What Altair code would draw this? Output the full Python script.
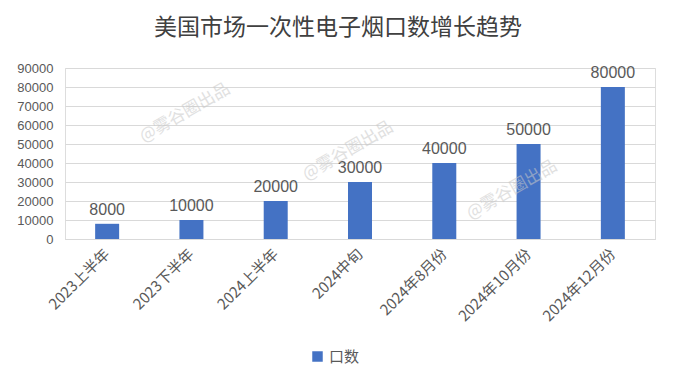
import altair as alt
import pandas as pd

categories = ["2023上半年", "2023下半年", "2024上半年", "2024中旬", "2024年8月份", "2024年10月份", "2024年12月份"]
values = [8000, 10000, 20000, 30000, 40000, 50000, 80000]
y_ticks = [0, 10000, 20000, 30000, 40000, 50000, 60000, 70000, 80000, 90000]
series_name = "口数"
title_text = "美国市场一次性电子烟口数增长趋势"
watermark = "@雾谷圈出品"

df = pd.DataFrame({"cat": categories, "val": values, "series": [series_name] * len(values)})

FONT = "Liberation Sans, Noto Sans CJK SC, sans-serif"
CJK = "Noto Sans CJK SC, sans-serif"

x = alt.X("cat:N", sort=categories, title=None,
          scale=alt.Scale(paddingInner=0.0, paddingOuter=0.0),
          axis=alt.Axis(labelAngle=-45, labelFontSize=15, labelColor="#595959", labelFont=CJK,
                        ticks=False, domainColor="#d9d9d9", labelPadding=12, labelAlign="right",
                        labelBaseline="middle", labelOverlap=False))
y = alt.Y("val:Q", title=None,
          scale=alt.Scale(domain=[0, 90000], nice=False),
          axis=alt.Axis(values=y_ticks, labelFontSize=13, labelColor="#595959", labelFont=FONT,
                        ticks=False, domain=False, gridColor="#d9d9d9", labelPadding=12, format="d",
                        labelOverlap=False))

bars = alt.Chart(df).mark_bar(size=24, color="#4472C4").encode(
    x=x, y=y,
    color=alt.Color("series:N", scale=alt.Scale(range=["#4472C4"]), title=None,
                    legend=alt.Legend(orient="none", legendX=245, legendY=281, symbolType="square",
                                      symbolSize=110, labelFontSize=15, labelColor="#595959",
                                      labelFont=CJK, direction="horizontal")),
)

labels = alt.Chart(df).mark_text(baseline="bottom", dy=-6, fontSize=16, color="#595959", font=FONT).encode(
    x=x, y=y, text="val:Q")

wm_df = pd.DataFrame({"t": [watermark] * 3, "px": [120, 283, 447], "py": [45, 83, 122]})
wm = alt.Chart(wm_df).mark_text(angle=330, fontSize=17, color="#c8c8c8", opacity=0.55, font=CJK).encode(
    x=alt.X("px:Q", scale=None, axis=None), y=alt.Y("py:Q", scale=None, axis=None), text="t:N")

chart = alt.layer(bars, labels, wm).properties(
    width=590, height=171,
    title=alt.TitleParams(title_text, fontSize=23, color="#404040", font=CJK, fontWeight="normal",
                          anchor="middle", dx=-22, offset=22),
    autosize=alt.AutoSizeParams(type="none"),
    padding={"left": 65, "top": 68, "right": 20, "bottom": 148},
).configure_view(stroke=None).configure(background="white")

chart.save("out.html", embed_options={"renderer": "svg", "actions": False})
